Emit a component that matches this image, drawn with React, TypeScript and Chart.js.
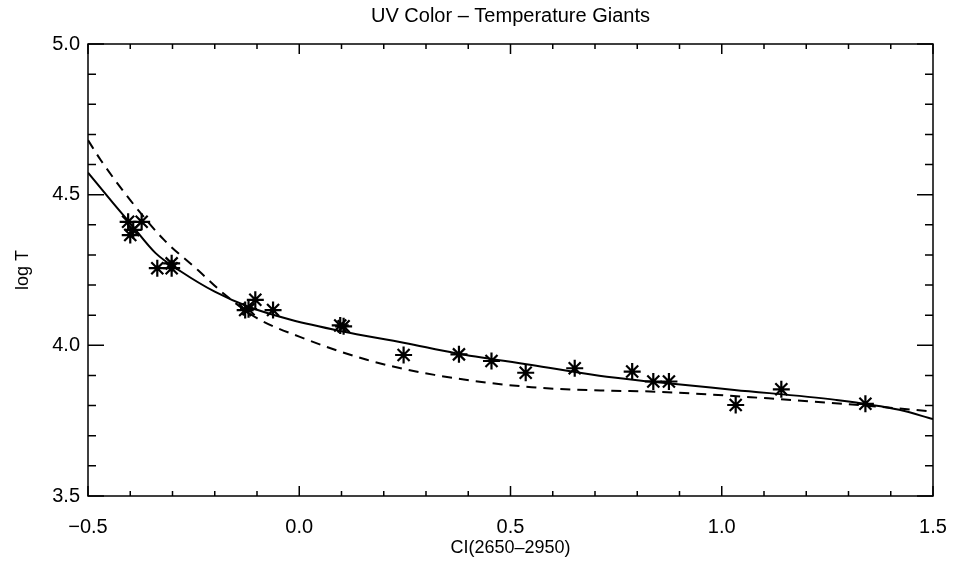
import React, { useEffect, useRef } from "react";
import { Chart, registerables } from "chart.js";

Chart.register(...registerables);

const chartTitle = "UV Color \u2013 Temperature Giants";
const xTitle = "CI(2650\u20132950)";
const yTitle = "log T";

const xTickValues = [-0.5, 0.0, 0.5, 1.0, 1.5];
const xTickLabels = ["\u22120.5", "0.0", "0.5", "1.0", "1.5"];
const yTickValues = [3.5, 4.0, 4.5, 5.0];
const yTickLabels = ["3.5", "4.0", "4.5", "5.0"];
const xMinorTicks = [-0.4, -0.3, -0.2, -0.1, 0.1, 0.2, 0.3, 0.4, 0.6, 0.7, 0.8, 0.9, 1.1, 1.2, 1.3, 1.4];
const yMinorTicks = [3.6, 3.7, 3.8, 3.9, 4.1, 4.2, 4.3, 4.4, 4.6, 4.7, 4.8, 4.9];

const starX = [-0.405, -0.373, -0.4, -0.393, -0.336, -0.302, -0.302, -0.128, -0.12, -0.104, -0.062, 0.097, 0.105, 0.247, 0.378, 0.455, 0.536, 0.652, 0.788, 0.838, 0.875, 1.033, 1.141, 1.34];
const starY = [4.41, 4.41, 4.366, 4.383, 4.256, 4.272, 4.256, 4.117, 4.12, 4.151, 4.117, 4.066, 4.063, 3.968, 3.97, 3.948, 3.909, 3.924, 3.913, 3.88, 3.88, 3.802, 3.854, 3.806];

const solidX = [-0.5, -0.44, -0.4, -0.34, -0.28, -0.2, -0.12, -0.02, 0.1, 0.25, 0.37, 0.55, 0.71, 0.83, 1.03, 1.27, 1.42, 1.5];
const solidY = [4.573, 4.471, 4.405, 4.306, 4.245, 4.178, 4.128, 4.085, 4.047, 4.008, 3.974, 3.935, 3.899, 3.88, 3.852, 3.819, 3.786, 3.755];

const dashX = [-0.5, -0.47, -0.4, -0.32, -0.24, -0.18, -0.1, 0.0, 0.16, 0.32, 0.55, 0.74, 0.83, 1.11, 1.35, 1.5];
const dashY = [4.681, 4.615, 4.482, 4.35, 4.25, 4.173, 4.09, 4.029, 3.952, 3.902, 3.861, 3.849, 3.847, 3.824, 3.799, 3.78];

const FONT = "'Liberation Sans', 'DejaVu Sans', sans-serif";

const framePlugin = {
  id: "frameTicks",
  afterDatasetsDraw(chart: any) {
    const { ctx, chartArea, scales } = chart;
    const { left, right, top, bottom } = chartArea;
    const xs = scales.x;
    const ys = scales.y;
    ctx.save();
    ctx.strokeStyle = "#000";
    ctx.lineWidth = 1.5;
    ctx.strokeRect(left, top, right - left, bottom - top);
    ctx.beginPath();
    const xt = (v: number, len: number) => {
      const px = xs.getPixelForValue(v);
      ctx.moveTo(px, bottom);
      ctx.lineTo(px, bottom - len);
      ctx.moveTo(px, top);
      ctx.lineTo(px, top + len);
    };
    const yt = (v: number, len: number) => {
      const py = ys.getPixelForValue(v);
      ctx.moveTo(left, py);
      ctx.lineTo(left + len, py);
      ctx.moveTo(right, py);
      ctx.lineTo(right - len, py);
    };
    xTickValues.forEach((v) => xt(v, 10));
    xMinorTicks.forEach((v) => xt(v, 5));
    yTickValues.forEach((v) => yt(v, 16));
    yMinorTicks.forEach((v) => yt(v, 8));
    ctx.stroke();
    // title centred over the plot area
    ctx.fillStyle = "#000";
    ctx.font = "20px " + FONT;
    ctx.textAlign = "center";
    ctx.textBaseline = "middle";
    ctx.fillText(chartTitle, (left + right) / 2, 16);
    ctx.restore();
  },
};

export default function App() {
  const ref = useRef<HTMLCanvasElement | null>(null);
  useEffect(() => {
    document.body.style.margin = "0";
    const canvas = ref.current!;
    const chart = new Chart(canvas, {
      type: "scatter",
      data: {
        datasets: [
          {
            label: "fit",
            data: solidX.map((x, i) => ({ x, y: solidY[i] })),
            showLine: true,
            borderColor: "#000",
            borderWidth: 2,
            pointRadius: 0,
            cubicInterpolationMode: "monotone",
          } as any,
          {
            label: "model",
            data: dashX.map((x, i) => ({ x, y: dashY[i] })),
            showLine: true,
            borderColor: "#000",
            borderWidth: 2,
            borderDash: [10, 7],
            pointRadius: 0,
            cubicInterpolationMode: "monotone",
          } as any,
          {
            label: "giants",
            data: starX.map((x, i) => ({ x, y: starY[i] })),
            pointStyle: "star",
            pointRadius: 8.5,
            borderColor: "#000",
            backgroundColor: "#000",
            borderWidth: 2.2,
          } as any,
        ],
      },
      options: {
        animation: false,
        responsive: false,
        layout: { padding: { left: 0, right: 24, top: 44, bottom: 0 } },
        plugins: {
          legend: { display: false },
          tooltip: { enabled: false },
          title: { display: false },
        },
        scales: {
          x: {
            type: "linear",
            min: -0.5,
            max: 1.5,
            afterBuildTicks: (scale: any) => {
              scale.ticks = xTickValues.map((v) => ({ value: v }));
            },
            afterFit: (scale: any) => {
              scale.height = 67;
              scale.paddingLeft = 0;
              scale.paddingRight = 0;
            },
            grid: { display: false, drawTicks: false },
            border: { display: false },
            ticks: {
              color: "#000",
              font: { family: FONT, size: 20 },
              padding: 19,
              maxRotation: 0,
              callback: (v: any) => {
                const i = xTickValues.indexOf(Number(v));
                return i >= 0 ? xTickLabels[i] : "";
              },
            },
            title: {
              display: true,
              text: xTitle,
              color: "#000",
              font: { family: FONT, size: 18 },
              padding: { top: 0, bottom: 4 },
            },
          },
          y: {
            type: "linear",
            min: 3.5,
            max: 5.0,
            afterBuildTicks: (scale: any) => {
              scale.ticks = yTickValues.map((v) => ({ value: v }));
            },
            afterFit: (scale: any) => {
              scale.width = 88;
              scale.paddingTop = 0;
              scale.paddingBottom = 0;
            },
            grid: { display: false, drawTicks: false },
            border: { display: false },
            ticks: {
              color: "#000",
              font: { family: FONT, size: 20 },
              padding: 8,
              callback: (v: any) => {
                const i = yTickValues.indexOf(Number(v));
                return i >= 0 ? yTickLabels[i] : "";
              },
            },
            title: {
              display: true,
              text: yTitle,
              color: "#000",
              font: { family: FONT, size: 18 },
              padding: { top: 12, bottom: 0 },
            },
          },
        },
      },
      plugins: [framePlugin],
    } as any);
    return () => chart.destroy();
  }, []);
  return (
    <div style={{ position: "absolute", left: 0, top: 0, width: 957, height: 563 }}>
      <canvas ref={ref} width={957} height={563} style={{ width: 957, height: 563 }} />
    </div>
  );
}
